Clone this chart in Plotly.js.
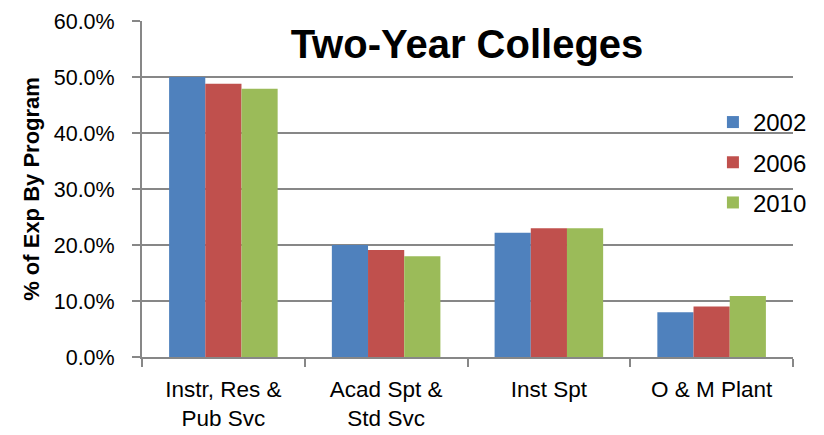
<!DOCTYPE html>
<html>
<head>
<meta charset="utf-8">
<script src="https://cdn.plot.ly/plotly-3.0.1.min.js"></script>
<style>html,body{margin:0;padding:0;background:#fff;}#chart{width:824px;height:435px;}</style>
</head>
<body>
<div id="chart"></div>
<script>
const categories = ["Instr, Res &<br>Pub Svc", "Acad Spt &<br>Std Svc", "Inst Spt", "O & M Plant"];
const years = ["2002", "2006", "2010"];
const values2002 = [0.500, 0.200, 0.222, 0.080];
const values2006 = [0.488, 0.191, 0.230, 0.090];
const values2010 = [0.479, 0.180, 0.230, 0.109];
const colors = ["#4F81BD", "#C0504D", "#9BBB59"];
const series = [values2002, values2006, values2010];
const yTickVals = [0, 0.1, 0.2, 0.3, 0.4, 0.5, 0.6];

const FONT = "Liberation Sans, Arial, sans-serif";
const GRID = "#878787";

const traces = series.map((vals, i) => ({
  type: "bar",
  name: years[i],
  x: categories,
  y: vals,
  legendgroup: years[i],
  marker: {color: colors[i], line: {width: 0}},
  hoverinfo: "none"
}));

const layout = {
  width: 824,
  height: 435,
  margin: {l: 142, r: 13, t: 21, b: 78},
  paper_bgcolor: "#ffffff",
  plot_bgcolor: "#ffffff",
  font: {family: FONT, color: "#000000", size: 21},
  barmode: "group",
  bargap: 0.333,
  bargroupgap: 0,
  title: {
    text: "<b>Two-Year Colleges</b>",
    font: {family: FONT, size: 40, color: "#000000"},
    x: 467 / 824, xref: "container", xanchor: "center",
    y: 1 - 44 / 435, yref: "container", yanchor: "middle"
  },
  xaxis: {
    type: "category",
    showline: true, linecolor: GRID, linewidth: 2,
    ticks: "outside", tickson: "boundaries", ticklen: 8, tickcolor: GRID, tickwidth: 2,
    showgrid: false,
    tickfont: {family: FONT, size: 22.5, color: "#000000"},
    ticklabelstandoff: 11,
    fixedrange: true
  },
  yaxis: {
    range: [0, 0.6],
    tickvals: yTickVals,
    tickformat: ".1%",
    showline: true, linecolor: GRID, linewidth: 2,
    ticks: "outside", ticklen: 8, tickcolor: GRID, tickwidth: 2,
    showgrid: true, gridcolor: GRID, gridwidth: 2,
    zeroline: false,
    tickfont: {family: FONT, size: 21.5, color: "#000000"},
    ticklabelstandoff: 13,
    title: {
      text: "<b>% of Exp By Program</b>",
      font: {family: FONT, size: 22, color: "#000000"},
      standoff: 8
    },
    fixedrange: true
  },
  showlegend: true,
  legend: {
    x: 0.877, xanchor: "left",
    y: 0.765, yanchor: "top",
    bgcolor: "rgba(255,255,255,0)",
    font: {family: FONT, size: 24, color: "#000000"},
    tracegroupgap: 6,
    itemwidth: 30
  }
};

Plotly.newPlot("chart", traces, layout, {displayModeBar: false, staticPlot: true});
</script>
</body>
</html>
